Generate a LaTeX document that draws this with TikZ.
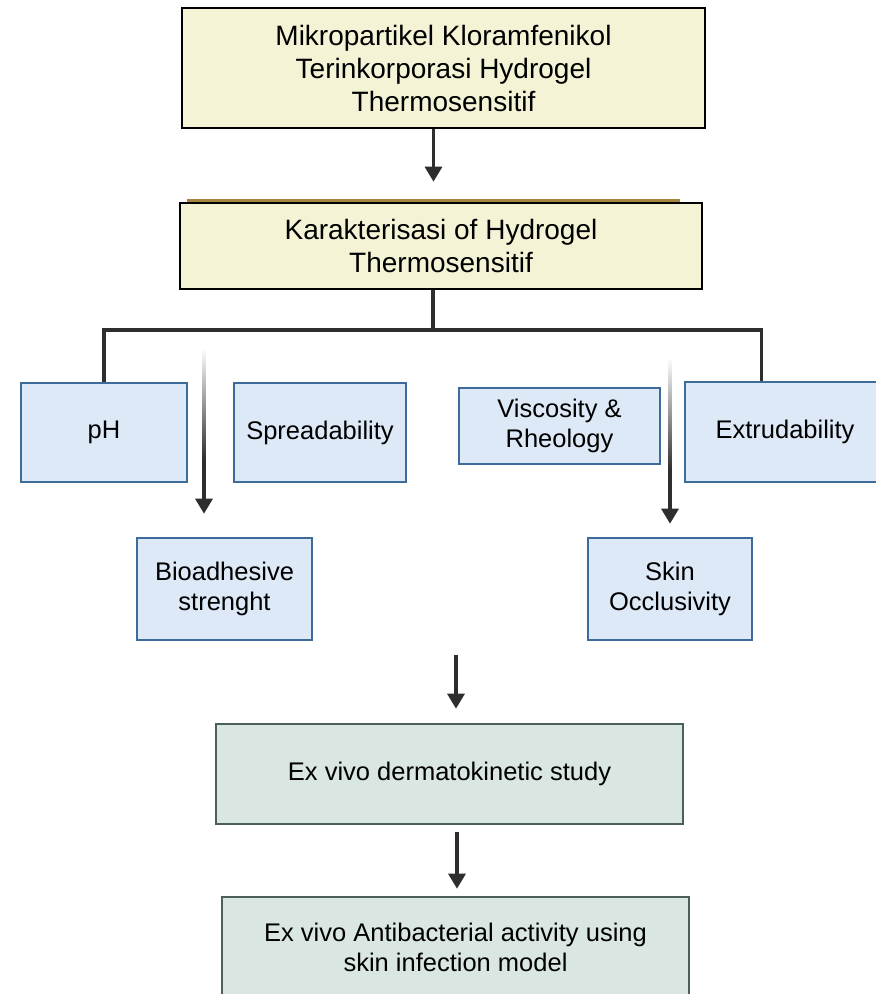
\documentclass[tikz,border=0pt]{standalone}
\usepackage{fontspec}
\setmainfont{Liberation Sans}
\usetikzlibrary{arrows.meta,fadings,calc}
\definecolor{yfill}{HTML}{F5F3D6}
\definecolor{bfill}{HTML}{DDE9F6}
\definecolor{bdraw}{HTML}{3E6C9A}
\definecolor{gfill}{HTML}{D9E6E1}
\definecolor{gdraw}{HTML}{4C605A}
\definecolor{lcol}{HTML}{2E2E2E}
\definecolor{gold}{HTML}{A4843F}
\tikzset{
  ybox/.style={draw=black, line width=2.6pt, fill=yfill, align=center, inner sep=0pt,
    font=\fontsize{28}{33}\selectfont},
  bbox/.style={draw=bdraw, line width=2.6pt, fill=bfill, align=center, inner sep=0pt,
    font=\fontsize{25.5}{30}\selectfont},
  gbox/.style={draw=gdraw, line width=2.6pt, fill=gfill, align=center, inner sep=0pt,
    font=\fontsize{25.5}{30}\selectfont},
  conn/.style={draw=lcol, line width=3.2pt},
  arr/.style={conn, -{Triangle[width=17pt,length=15pt]}},
  fadecover/.style={fill=white, path fading=south},
}
\begin{document}
\begin{tikzpicture}[x=1pt,y=-1pt]
\useasboundingbox (0,0) rectangle (876,994);
% nodes
\node[ybox, minimum width=523, minimum height=120] (top) at (443.5,68)
  {Mikropartikel Kloramfenikol\\Terinkorporasi Hydrogel\\Thermosensitif};
\draw[gold, line width=3pt] (187,200) -- (680,200);
\node[ybox, minimum width=522, minimum height=86] (kar) at (441,246)
  {Karakterisasi of Hydrogel\\Thermosensitif};
\node[bbox, minimum width=166, minimum height=99] (ph) at (104,432.5) {pH};
\node[bbox, minimum width=172, minimum height=99] (spr) at (320,432.5) {Spreadability};
\node[bbox, minimum width=201, minimum height=76] (vis) at (559.5,426) {Viscosity \&\\Rheology};
\node[bbox, minimum width=200, minimum height=100] (ext) at (785,432) {Extrudability};
\node[bbox, minimum width=175, minimum height=102] (bio) at (224.5,589) {Bioadhesive\\strenght};
\node[bbox, minimum width=164, minimum height=102] (skin) at (670,589) {Skin\\Occlusivity};
\node[gbox, minimum width=467, minimum height=100] (derm) at (449.5,774) {Ex vivo dermatokinetic study};
\node[gbox, minimum width=467, minimum height=100] (anti) at (455.5,947)
  {Ex vivo Antibacterial activity using\\skin infection model};
% connectors
\draw[arr, shorten >=20pt] ([xshift=-10pt]top.south) -- ([xshift=-10pt]top.south |- kar.north);
\coordinate (j) at (433,330);
\draw[conn] (kar.south -| j) -- (j);
\draw[conn] (j) -| (ph.north);
\draw[conn] (j) -| ($(ext.north west)+(78,0)$);
\coordinate (b1) at (204,350);
\draw[arr, shorten >=23pt] (b1) -- (b1 |- bio.north);
\fill[fadecover] ($(b1)+(-6,-2)$) rectangle ($(b1)+(6,110)$);
\coordinate (s1) at (670,360);
\draw[arr, shorten >=13pt] (s1) -- (skin.north);
\fill[fadecover] ($(s1)+(-6,-2)$) rectangle ($(s1)+(6,110)$);
\coordinate (c3) at (456,655);
\draw[arr, shorten >=14pt] (c3) -- (c3 |- derm.north);
\coordinate (c4) at (457,824);
\draw[arr, shorten <=8pt, shorten >=7pt] (c4) -- (c4 |- anti.north);
\end{tikzpicture}
\end{document}
